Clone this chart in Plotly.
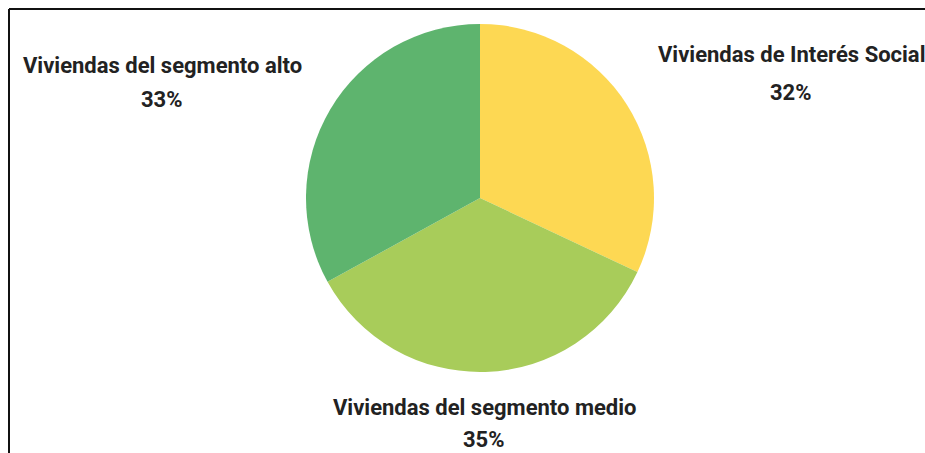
import plotly.graph_objects as go

# Housing segments and their shares (%)
segments = ["Viviendas de Interés Social", "Viviendas del segmento medio", "Viviendas del segmento alto"]
shares = [32, 35, 33]
colors = ["#FDD853", "#A8CC5A", "#5EB46E"]

W, H = 925, 453

fig = go.Figure(
    go.Pie(
        labels=segments,
        values=shares,
        sort=False,
        direction="clockwise",
        rotation=0,
        marker=dict(colors=colors, line=dict(width=0)),
        textinfo="none",
        hoverinfo="label+percent",
        showlegend=False,
        domain=dict(x=[306 / W, 654 / W], y=[(H - 372) / H, (H - 24) / H]),
    )
)

# Label positions (pixels) for name line and percentage line of each segment
label_pos = {
    "Viviendas de Interés Social": (791, 55, 92),
    "Viviendas del segmento medio": (484, 407, 439),
    "Viviendas del segmento alto": (162, 65, 99),
}

font = dict(family="Roboto, Arial, sans-serif", size=22, color="#222222")
annotations = []
for name, val in zip(segments, shares):
    x, y1, y2 = label_pos[name]
    annotations.append(dict(text=f"<b>{name}</b>", x=x / W, y=1 - y1 / H, xref="paper", yref="paper",
                            showarrow=False, font=font, xanchor="center", yanchor="middle"))
    annotations.append(dict(text=f"<b>{val}%</b>", x=x / W, y=1 - y2 / H, xref="paper", yref="paper",
                            showarrow=False, font=font, xanchor="center", yanchor="middle"))

# Frame lines along the top and left edges
shapes = [
    dict(type="line", xref="paper", yref="paper", x0=9 / W, x1=1.0, y0=1 - 9 / H, y1=1 - 9 / H,
         line=dict(color="#111111", width=2)),
    dict(type="line", xref="paper", yref="paper", x0=9 / W, x1=9 / W, y0=1 - 9 / H, y1=0,
         line=dict(color="#111111", width=2)),
]

fig.update_layout(
    width=W,
    height=H,
    margin=dict(l=0, r=0, t=0, b=0),
    paper_bgcolor="white",
    plot_bgcolor="white",
    annotations=annotations,
    shapes=shapes,
)

fig.write_html("out.html")
